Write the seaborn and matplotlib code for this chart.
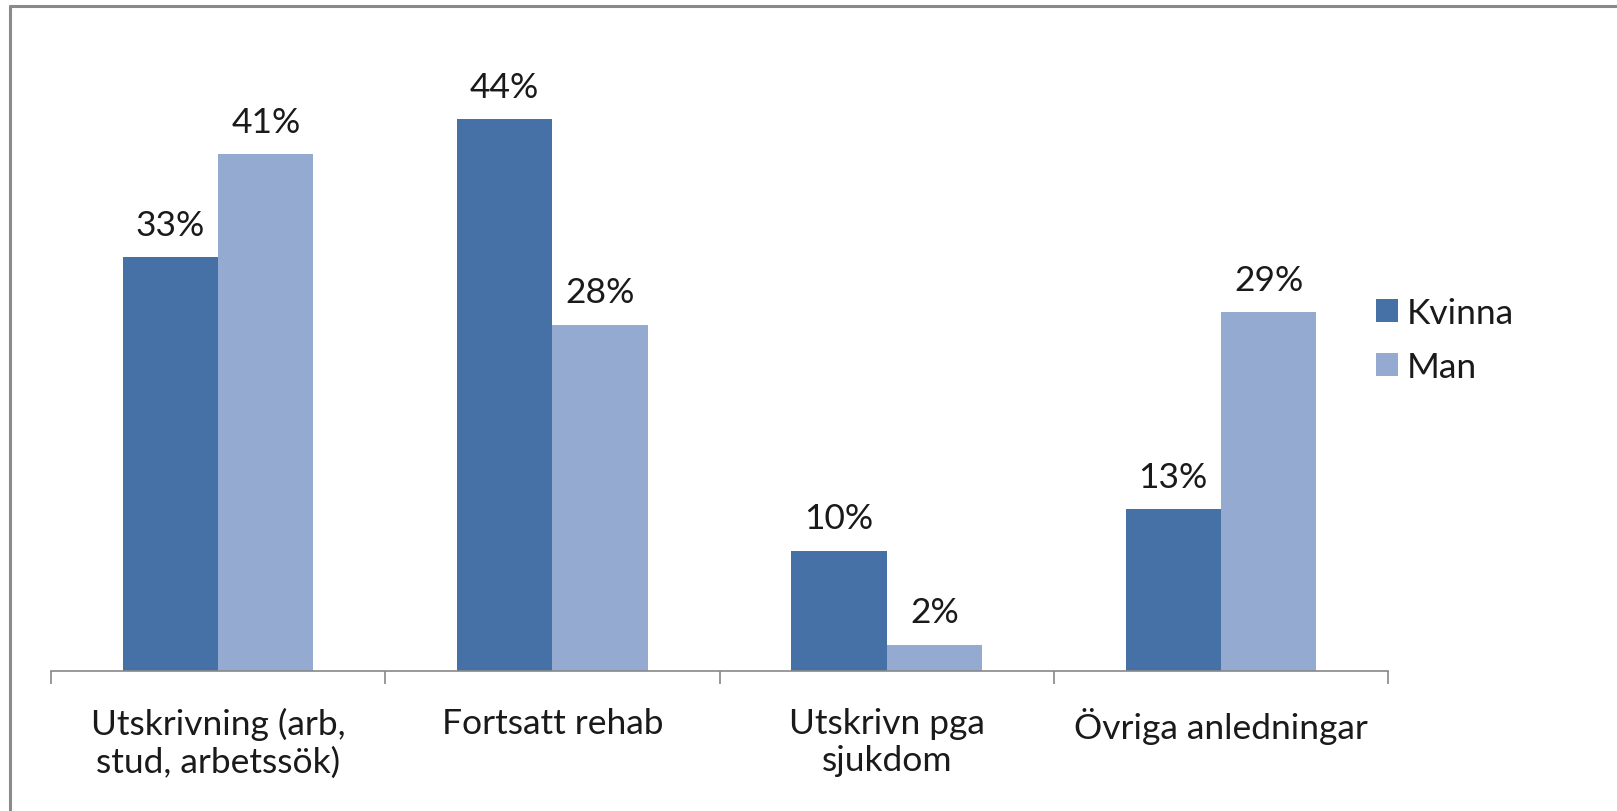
import numpy as np
import pandas as pd
import matplotlib
matplotlib.use("Agg")
import matplotlib.pyplot as plt
from matplotlib.lines import Line2D
import seaborn as sns

# Data (percent)
categories = ["Utskrivning (arb,\nstud, arbetssök)", "Fortsatt rehab",
              "Utskrivn pga\nsjukdom", "Övriga anledningar"]
kvinna = [33.0, 44.0, 9.6, 12.9]
man = [41.2, 27.6, 2.1, 28.6]
series = ["Kvinna", "Man"]
colors = ["#4571A7", "#95AAD1"]

df = pd.DataFrame({
    "kategori": categories * 2,
    "andel": kvinna + man,
    "kön": [series[0]] * 4 + [series[1]] * 4,
})

sns.set_style("white")
plt.rcParams["font.family"] = ["Lato", "DejaVu Sans"]
plt.rcParams["text.color"] = "#1a1a1a"
FS = 25.5

W, H = 1617, 812
fig = plt.figure(figsize=(W / 100, H / 100), dpi=100)
ax = fig.add_axes([51 / W, 1 - 672 / H, 1337 / W, 627 / H])

sns.barplot(data=df, x="kategori", y="andel", hue="kön", palette=colors,
            hue_order=series, order=categories, width=0.57, gap=0,
            saturation=1, ax=ax, errorbar=None, linewidth=0)

ax.set_ylim(0, 50)
ax.set_xlim(-0.5, 3.5)
ax.set_xlabel("")
ax.set_ylabel("")
ax.set_yticks([])

# value labels above the bars
for cont in ax.containers:
    vals = cont.datavalues
    ax.bar_label(cont, labels=[f"{int(v + 0.5)}%" for v in vals],
                 padding=12, fontsize=FS, color="#1a1a1a")

# axes: only the bottom line, with ticks between categories
for side in ["left", "right", "top"]:
    ax.spines[side].set_visible(False)
ax.spines["bottom"].set_color("#888888")
ax.spines["bottom"].set_linewidth(1.2)
ax.set_xticks(np.arange(-0.5, 4, 1), minor=True)
ax.tick_params(axis="x", which="minor", bottom=True, length=9.5, width=1.2,
               color="#888888", direction="out")
ax.tick_params(axis="x", which="major", bottom=True, length=0, pad=26,
               labelsize=FS, labelcolor="#1a1a1a")

# legend on the right
handles, labels = ax.get_legend_handles_labels()
ax.legend_.remove()
fig.legend(handles, labels, loc="center left",
           bbox_to_anchor=(1376 / W, 1 - 341 / H), frameon=False,
           fontsize=FS, handlelength=0.62, handleheight=0.62,
           handletextpad=0.25, labelspacing=0.6, borderpad=0,
           borderaxespad=0)

# chart frame: top and left border only
fig.add_artist(Line2D([9.5 / W, 9.5 / W], [0, 1 - 6.5 / H],
                      color="#8a8a8a", linewidth=2.2,
                      transform=fig.transFigure))
fig.add_artist(Line2D([9.5 / W, 1], [1 - 6.5 / H, 1 - 6.5 / H],
                      color="#8a8a8a", linewidth=2.2,
                      transform=fig.transFigure))

fig.savefig("out.png", dpi=100, facecolor="white")
